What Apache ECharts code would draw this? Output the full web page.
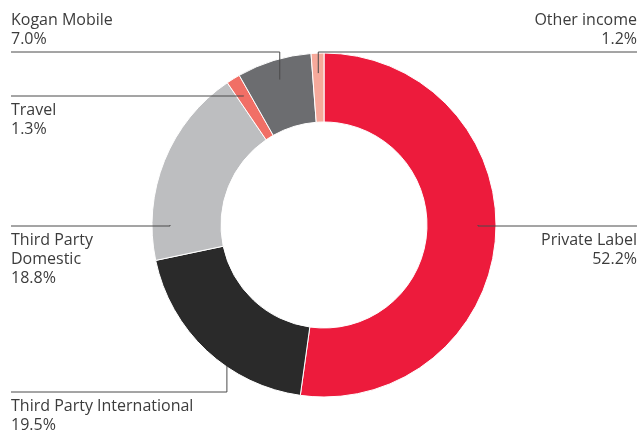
<!DOCTYPE html>
<html>
<head>
<meta charset="utf-8">
<script src="https://cdn.jsdelivr.net/npm/echarts@6/dist/echarts.min.js"></script>
<style>
  html, body { margin: 0; padding: 0; background: #ffffff; }
  #chart { width: 640px; height: 430px; }
</style>
</head>
<body>
<div id="chart"></div>
<script>
// Revenue mix by segment (%), clockwise from 12 o'clock
const categories = ['Private Label', 'Third Party International', 'Third Party\nDomestic', 'Travel', 'Kogan Mobile', 'Other income'];
const shares = [52.2, 19.5, 18.8, 1.3, 7.0, 1.2];
const colors = ['#ED1B3C', '#2A2A2A', '#BDBEC0', '#F16F66', '#6C6D70', '#F6A99B'];

// Ring geometry
const CX = 324, CY = 225, R_IN = 103, R_OUT = 172;

// Callout placement: which side the text sits on, the y of the leader line,
// whether the text is above or below that line, and where the leader touches the ring
// (angle clockwise from 12 o'clock, in degrees; radius in px).
const callouts = [
  { side: 'right', lineY: 226, textPos: 'below', angle: 90,    r: 154 },
  { side: 'left',  lineY: 392, textPos: 'below', angle: 214.6, r: 171 },
  { side: 'left',  lineY: 226, textPos: 'below', angle: 270,   r: 154 },
  { side: 'left',  lineY: 96,  textPos: 'below', angle: null,  r: 152 },
  { side: 'left',  lineY: 52,  textPos: 'above', angle: null,  r: 152 },
  { side: 'right', lineY: 52,  textPos: 'above', angle: null,  r: 152 }
];
const LEFT_X = 11, RIGHT_X = 637;

// Mid angle of each slice (degrees clockwise from top)
const total = shares.reduce((a, b) => a + b, 0);
const midAngles = [];
let acc = 0;
shares.forEach(v => { midAngles.push((acc + v / 2) / total * 360); acc += v; });

function ringPoint(angleDeg, r) {
  const a = angleDeg * Math.PI / 180;
  return [CX + r * Math.sin(a), CY - r * Math.cos(a)];
}

const pieData = categories.map((name, i) => ({ name, value: shares[i] }));
const common = {
  type: 'pie',
  center: [CX, CY],
  radius: [R_IN, R_OUT],
  startAngle: 90,
  clockwise: true,
  silent: true,
  data: pieData
};

const chart = echarts.init(document.getElementById('chart'), null, { renderer: 'canvas' });

chart.setOption({
  backgroundColor: '#ffffff',
  animation: false,
  color: colors,
  series: [
    // the coloured ring
    Object.assign({}, common, {
      z: 2,
      itemStyle: { borderColor: '#ffffff', borderWidth: 1 },
      label: { show: false },
      labelLine: { show: false }
    }),
    // transparent copy carrying the callouts, so the leaders sit over the ring
    Object.assign({}, common, {
      z: 5,
      itemStyle: { color: 'rgba(0,0,0,0)', borderWidth: 0 },
      label: {
        show: true,
        formatter: p => p.name + '\n' + p.value.toFixed(1) + '%',
        fontFamily: '"Open Sans", sans-serif',
        fontSize: 16,
        lineHeight: 19,
        color: '#3c3c3c',
        overflow: 'none'
      },
      labelLine: {
        show: true,
        lineStyle: { color: '#4a4a4a', width: 1 }
      },
      labelLayout: params => {
        const c = callouts[params.dataIndex];
        const ang = c.angle === null ? midAngles[params.dataIndex] : c.angle;
        const anchor = ringPoint(ang, c.r);
        const endX = c.side === 'left' ? LEFT_X : RIGHT_X;
        return {
          x: endX,
          y: c.textPos === 'above' ? c.lineY - 3 : c.lineY + 5,
          align: c.side === 'left' ? 'left' : 'right',
          verticalAlign: c.textPos === 'above' ? 'bottom' : 'top',
          labelLinePoints: [anchor, [anchor[0], c.lineY], [endX, c.lineY]]
        };
      }
    })
  ]
});
</script>
</body>
</html>
